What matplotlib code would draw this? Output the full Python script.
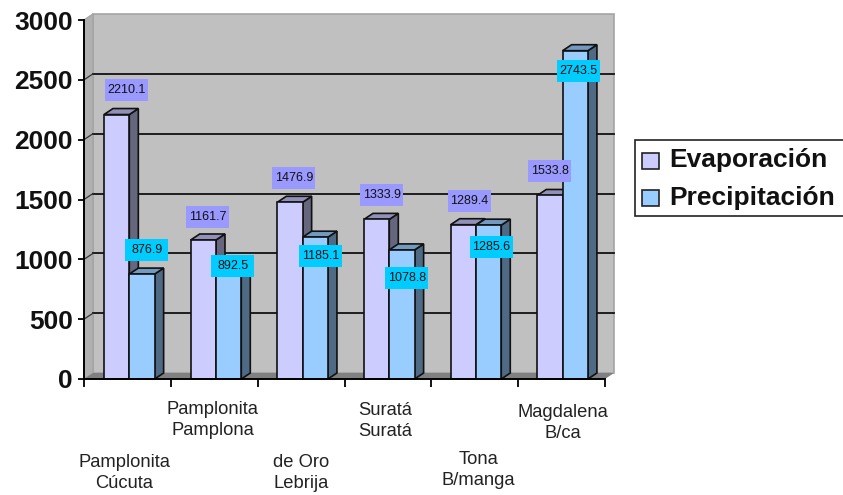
import matplotlib
matplotlib.use("Agg")
import matplotlib.pyplot as plt
from matplotlib.patches import Polygon, Rectangle
from matplotlib.transforms import Affine2D

W, H = 843, 495

# Annual totals per station (mm)
stations = ["Pamplonita\nCúcuta", "Pamplonita\nPamplona", "de Oro\nLebrija",
            "Suratá\nSuratá", "Tona\nB/manga", "Magdalena\nB/ca"]
evaporacion = [2210.1, 1161.7, 1476.9, 1333.9, 1289.4, 1533.8]
precipitacion = [876.9, 892.5, 1185.1, 1078.8, 1285.6, 2743.5]
y_ticks = [0, 500, 1000, 1500, 2000, 2500, 3000]

# Hand placement of value labels relative to the bar front, in pixels
evap_label_dx = [10, 4, 4, 5, 6, 0]
evap_label_dy = [25, 23, 24, 24, 24, 24]
prec_label_dx = [5, 4, 5, 5, 3, 3]
prec_label_dy = [24, 6, -19, -28, -22, -20]

# Category label placement: centre within the group, pixels below the axis
label_dx = [0.46, 0.483, 0.506, 0.47, 0.54, 0.517]
label_drop = [94, 41, 94, 42, 91, 44]

fig = plt.figure(figsize=(W / 100, H / 100), dpi=100)
left, right, top, bottom = 84, 605, 20, 379
ax = fig.add_axes([left / W, 1 - bottom / H, (right - left) / W, (bottom - top) / H])
ax.set_xlim(0, 6)
ax.set_ylim(0, 3000)
ax.patch.set_visible(False)

# Depth of the 3-D projection expressed in data units
DX = 9 / 86.8
DY = 6 / 0.12

WALL, SIDE, FLOOR = "#c0c0c0", "#b0b0b0", "#808080"


def poly(pts, fc, ec="none", lw=0.0, z=1):
    ax.add_patch(Polygon(pts, closed=True, fc=fc, ec=ec, lw=lw, zorder=z, clip_on=False))


# Back wall, side wall and floor
poly([(DX, DY), (6 + DX, DY), (6 + DX, 3000 + DY), (DX, 3000 + DY)], WALL, "#a4a4a4", 1.2)
poly([(0, 0), (DX, DY), (DX, 3000 + DY), (0, 3000)], SIDE, "#a4a4a4", 1.0)
poly([(0, 0), (6, 0), (6 + DX, DY), (DX, DY)], FLOOR)

for v in y_ticks[1:-1]:
    ax.plot([DX, 6 + DX], [v + DY, v + DY], color="#111111", lw=1.3, zorder=2, clip_on=False)
    ax.plot([0, DX], [v, v + DY], color="#333333", lw=0.9, zorder=2, clip_on=False)

BAR = 25.3 / 86.8
START = 20 / 86.8
STEP = 0.998


def bar3d(x, v, front, topc, sidec, z):
    poly([(x + BAR, 0), (x + BAR + DX, DY), (x + BAR + DX, v + DY), (x + BAR, v)], sidec, "#111111", 1.2, z)
    poly([(x, v), (x + BAR, v), (x + BAR + DX, v + DY), (x + DX, v + DY)], topc, "#111111", 1.2, z)
    poly([(x, 0), (x + BAR, 0), (x + BAR, v), (x, v)], front, "#111111", 1.2, z)


for i, (e, p) in enumerate(zip(evaporacion, precipitacion)):
    x = i * STEP + START
    bar3d(x, e, "#ccccff", "#9090b8", "#66667f", 3 + i * 2)
    bar3d(x + BAR, p, "#99ccff", "#7299c0", "#4f6a85", 4 + i * 2)

# Value labels sit on fixed-size coloured boxes
BOX_W, BOX_H = 43, 22
for i, (e, p) in enumerate(zip(evaporacion, precipitacion)):
    x = i * STEP + START
    for v, cx, dx, dy, box in ((e, x + BAR / 2, evap_label_dx[i], evap_label_dy[i], "#9999ff"),
                               (p, x + 1.5 * BAR, prec_label_dx[i], prec_label_dy[i], "#00ccff")):
        px, py = ax.transData.transform((cx, v))
        tr = Affine2D().translate(px + dx, py + dy)
        ax.add_patch(Rectangle((-BOX_W / 2, -BOX_H / 2), BOX_W, BOX_H, fc=box, ec="none",
                               transform=tr, zorder=30, clip_on=False))
        ax.annotate(f"{v:.1f}", (cx, v), xytext=(dx * 0.72, dy * 0.72), textcoords="offset points",
                    ha="center", va="center", fontsize=9, family="Liberation Sans", color="#111111",
                    zorder=31, annotation_clip=False)

# Axes lines and tick marks
ax.set_xticks(range(7))
ax.set_xticklabels([])
ax.set_yticks(y_ticks)
ax.set_yticklabels([str(t) for t in y_ticks], fontsize=19, fontweight="bold",
                   family="Liberation Sans", color="#111111")
ax.tick_params(axis="y", length=4, width=1.3, pad=4)
ax.tick_params(axis="x", length=6, width=1.3, direction="out")
for s in ("top", "right"):
    ax.spines[s].set_visible(False)
for s in ("left", "bottom"):
    ax.spines[s].set_linewidth(1.4)
    ax.spines[s].set_zorder(40)

# Staggered category labels under the axis
for i, name in enumerate(stations):
    ax.annotate(name, (i + label_dx[i], 0), xytext=(0, -label_drop[i] * 0.72),
                textcoords="offset points", ha="center", va="center", fontsize=13.2,
                family="Liberation Sans", color="#222222", linespacing=1.35, annotation_clip=False)

# Legend drawn on a full-figure overlay in pixel space
ov = fig.add_axes([0, 0, 1, 1])
ov.set_xlim(0, W)
ov.set_ylim(H, 0)
ov.axis("off")
ov.add_patch(Rectangle((635, 140), 230, 76, fc="white", ec="#222222", lw=1.2))
legend_entries = [("Evaporación", "#ccccff", 161, 160), ("Precipitación", "#99ccff", 198, 198)]
for label, col, ys, yt in legend_entries:
    ov.add_patch(Rectangle((642, ys - 8), 17, 16, fc=col, ec="#222222", lw=1.2))
    ov.text(669, yt, label, fontsize=19, fontweight="bold", family="Liberation Sans",
            va="center", color="#111111")

fig.savefig("out.png", dpi=100)
